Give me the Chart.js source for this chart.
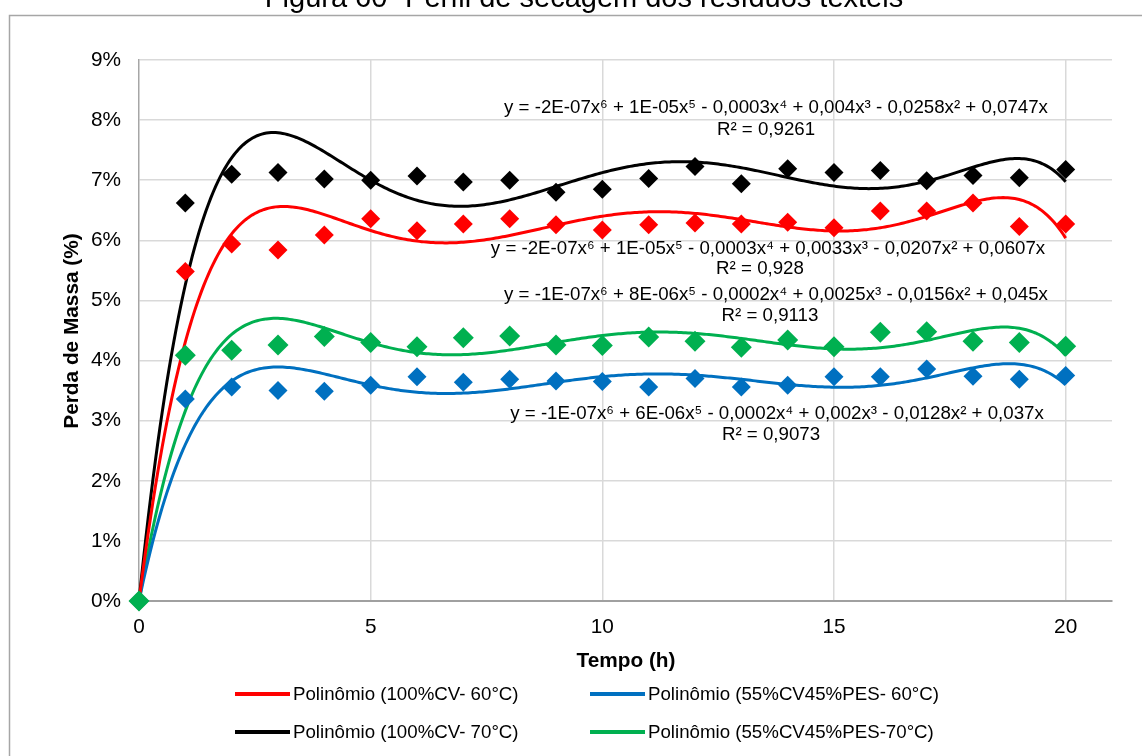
<!DOCTYPE html>
<html lang="pt">
<head>
<meta charset="utf-8">
<title>Perfil de secagem dos resíduos têxteis</title>
<script src="https://cdn.jsdelivr.net/npm/chart.js@4.4.1/dist/chart.umd.min.js"></script>
<style>
  html, body { margin: 0; padding: 0; background: #fff; }
  #wrap { position: relative; width: 1142px; height: 756px; overflow: hidden; }
  #chart { position: absolute; left: 0; top: 0; }
  .leg { position: absolute; font-family: 'Liberation Sans', Arial, sans-serif; font-size: 18.7px; color: #000; white-space: nowrap; line-height: 22px; height: 22px; }
  .leg .sw { position: absolute; left: 0; top: 9px; width: 55px; height: 4px; }
  .leg .tx { position: absolute; left: 58px; top: 0; }
</style>
</head>
<body>
<div id="wrap">
  <canvas id="chart" width="1142" height="756"></canvas>
  <div class="leg" style="left:235px; top:683px;"><span class="sw" style="background:#ff0000"></span><span class="tx">Polinômio (100%CV- 60°C)</span></div>
  <div class="leg" style="left:590px; top:683px;"><span class="sw" style="background:#0070c0"></span><span class="tx">Polinômio (55%CV45%PES- 60°C)</span></div>
  <div class="leg" style="left:235px; top:721px;"><span class="sw" style="background:#000000"></span><span class="tx">Polinômio (100%CV- 70°C)</span></div>
  <div class="leg" style="left:590px; top:721px;"><span class="sw" style="background:#00b050"></span><span class="tx">Polinômio (55%CV45%PES-70°C)</span></div>
</div>
<script>
// Drying time (h)
const hours = [0, 1, 2, 3, 4, 5, 6, 7, 8, 9, 10, 11, 12, 13, 14, 15, 16, 17, 18, 19, 20];

// Mass loss (%) for each residue / temperature
const cv100_60 = [0, 5.48, 5.94, 5.84, 6.09, 6.36, 6.16, 6.27, 6.36, 6.26, 6.17, 6.26, 6.29, 6.27, 6.30, 6.21, 6.49, 6.49, 6.62, 6.23, 6.27];
const cv100_70 = [0, 6.62, 7.10, 7.13, 7.02, 7.00, 7.07, 6.97, 7.00, 6.80, 6.85, 7.03, 7.23, 6.94, 7.19, 7.13, 7.16, 6.99, 7.08, 7.04, 7.18];
const cvpes_60 = [0, 3.36, 3.56, 3.50, 3.49, 3.59, 3.73, 3.64, 3.69, 3.66, 3.65, 3.56, 3.70, 3.56, 3.59, 3.73, 3.73, 3.86, 3.74, 3.69, 3.75];
const cvpes_70 = [0, 4.09, 4.17, 4.26, 4.40, 4.30, 4.23, 4.38, 4.41, 4.26, 4.25, 4.39, 4.32, 4.22, 4.34, 4.23, 4.47, 4.48, 4.32, 4.30, 4.24];

const yTicks = [0, 1, 2, 3, 4, 5, 6, 7, 8, 9];
const xTicks = [0, 5, 10, 15, 20];

const chartTitle = 'Figura 60- Perfil de secagem dos resíduos têxteis';
const xTitle = 'Tempo (h)';
const yTitle = 'Perda de Massa (%)';

// Trendline equation labels (as printed by the spreadsheet)
const eqLabels = [
  { eq: 'y = -2E-07x⁶ + 1E-05x⁵ - 0,0003x⁴ + 0,004x³ - 0,0258x² + 0,0747x', r2: 'R² = 0,9261', cx: 776, y: 108, rcx: 766, ry: 130 },
  { eq: 'y = -2E-07x⁶ + 1E-05x⁵ - 0,0003x⁴ + 0,0033x³ - 0,0207x² + 0,0607x', r2: 'R² = 0,928', cx: 768, y: 249, rcx: 760, ry: 269 },
  { eq: 'y = -1E-07x⁶ + 8E-06x⁵ - 0,0002x⁴ + 0,0025x³ - 0,0156x² + 0,045x', r2: 'R² = 0,9113', cx: 776, y: 295, rcx: 770, ry: 316 },
  { eq: 'y = -1E-07x⁶ + 6E-06x⁵ - 0,0002x⁴ + 0,002x³ - 0,0128x² + 0,037x', r2: 'R² = 0,9073', cx: 777, y: 414, rcx: 771, ry: 435 }
];

const FONT = "'Liberation Sans', Arial, sans-serif";

// Least-squares polynomial (degree 6, zero intercept) like a spreadsheet trendline
function polyFitZero(xs, ys, deg) {
  const S = 20; // scale x to keep the normal equations well conditioned
  const A = Array.from({ length: deg }, () => new Array(deg).fill(0));
  const b = new Array(deg).fill(0);
  xs.forEach((x, i) => {
    const t = x / S;
    const phi = [];
    for (let k = 1; k <= deg; k++) phi.push(Math.pow(t, k));
    for (let r = 0; r < deg; r++) {
      b[r] += phi[r] * ys[i];
      for (let c = 0; c < deg; c++) A[r][c] += phi[r] * phi[c];
    }
  });
  // Gaussian elimination with partial pivoting
  for (let col = 0; col < deg; col++) {
    let piv = col;
    for (let r = col + 1; r < deg; r++) if (Math.abs(A[r][col]) > Math.abs(A[piv][col])) piv = r;
    [A[col], A[piv]] = [A[piv], A[col]];
    [b[col], b[piv]] = [b[piv], b[col]];
    for (let r = col + 1; r < deg; r++) {
      const f = A[r][col] / A[col][col];
      for (let c = col; c < deg; c++) A[r][c] -= f * A[col][c];
      b[r] -= f * b[col];
    }
  }
  const coef = new Array(deg).fill(0);
  for (let r = deg - 1; r >= 0; r--) {
    let s = b[r];
    for (let c = r + 1; c < deg; c++) s -= A[r][c] * coef[c];
    coef[r] = s / A[r][r];
  }
  return x => {
    const t = x / S;
    let y = 0;
    for (let k = 1; k <= deg; k++) y += coef[k - 1] * Math.pow(t, k);
    return y;
  };
}

function trendPoints(values) {
  const f = polyFitZero(hours, values, 6);
  const pts = [];
  const last = hours[hours.length - 1];
  for (let i = 0; i <= 400; i++) {
    const x = hours[0] + (last - hours[0]) * i / 400;
    pts.push({ x, y: f(x) });
  }
  return pts;
}

function scatterPoints(values) {
  return hours.map((h, i) => ({ x: h, y: values[i] }));
}

const series = [
  { name: '100%CV- 60°C', values: cv100_60, color: '#ff0000', r: 9.5 },
  { name: '55%CV45%PES- 60°C', values: cvpes_60, color: '#0070c0', r: 9.5 },
  { name: '100%CV- 70°C', values: cv100_70, color: '#000000', r: 9.5 },
  { name: '55%CV45%PES-70°C', values: cvpes_70, color: '#00b050', r: 10.5 }
];

const datasets = [];
series.forEach((s, i) => {
  datasets.push({
    type: 'line',
    label: 'Polinômio (' + s.name + ')',
    data: trendPoints(s.values),
    borderColor: s.color,
    borderWidth: 3,
    pointRadius: 0,
    tension: 0,
    fill: false,
    clip: false,
    order: 10 + i
  });
  datasets.push({
    type: 'scatter',
    label: s.name,
    data: scatterPoints(s.values),
    pointStyle: 'rectRot',
    pointRadius: s.r,
    pointHoverRadius: s.r,
    backgroundColor: s.color,
    borderColor: s.color,
    borderWidth: 0,
    clip: false,
    order: 5 - i
  });
});

const decor = {
  id: 'decor',
  beforeDraw(chart) {
    const ctx = chart.ctx;
    ctx.save();
    ctx.fillStyle = '#fff';
    ctx.fillRect(0, 0, chart.width, chart.height);
    // outer frame
    ctx.strokeStyle = '#a6a6a6';
    ctx.lineWidth = 1.5;
    ctx.strokeRect(9.5, 15.5, 1300, 900);
    // title
    ctx.fillStyle = '#000';
    ctx.font = '29px ' + FONT;
    ctx.textAlign = 'center';
    ctx.textBaseline = 'alphabetic';
    ctx.fillText(chartTitle, 584, 7);
    ctx.restore();
  },
  afterDraw(chart) {
    const ctx = chart.ctx;
    ctx.save();
    ctx.fillStyle = '#000';
    // axis titles
    ctx.font = 'bold 20.8px ' + FONT;
    ctx.textAlign = 'center';
    ctx.textBaseline = 'middle';
    ctx.fillText(xTitle, 626, 661);
    ctx.translate(72, 331);
    ctx.rotate(-Math.PI / 2);
    ctx.fillText(yTitle, 0, 0);
    ctx.setTransform(1, 0, 0, 1, 0, 0);
    // trendline equations
    ctx.font = '18.7px ' + FONT;
    eqLabels.forEach(l => {
      ctx.fillText(l.eq, l.cx, l.y);
      ctx.fillText(l.r2, l.rcx, l.ry);
    });
    ctx.restore();
  }
};

new Chart(document.getElementById('chart'), {
  data: { datasets },
  options: {
    responsive: false,
    animation: false,
    devicePixelRatio: 1,
    layout: { padding: { left: 0, right: 30, top: 60, bottom: 0 } },
    plugins: { legend: { display: false }, tooltip: { enabled: false }, title: { display: false } },
    scales: {
      x: {
        type: 'linear',
        min: 0,
        max: 21,
        afterBuildTicks: s => { s.ticks = xTicks.map(v => ({ value: v })); },
        afterFit: s => { s.height = 155; },
        ticks: { color: '#000', font: { family: FONT, size: 20.8 }, padding: 14, maxRotation: 0, autoSkip: false },
        grid: { color: c => (c.tick && c.tick.value === 0 ? 'rgba(0,0,0,0)' : '#d9d9d9'), lineWidth: 1.5, drawTicks: false },
        border: { color: '#a0a0a0', width: 2 }
      },
      y: {
        type: 'linear',
        min: 0,
        max: 9,
        afterBuildTicks: s => { s.ticks = yTicks.map(v => ({ value: v })); },
        afterFit: s => { s.width = 139; },
        ticks: { color: '#000', font: { family: FONT, size: 20.8 }, padding: 18, callback: v => v + '%' },
        grid: { color: '#d9d9d9', lineWidth: 1.5, drawTicks: false },
        border: { color: '#a6a6a6', width: 1.5 }
      }
    }
  },
  plugins: [decor]
});
</script>
</body>
</html>
